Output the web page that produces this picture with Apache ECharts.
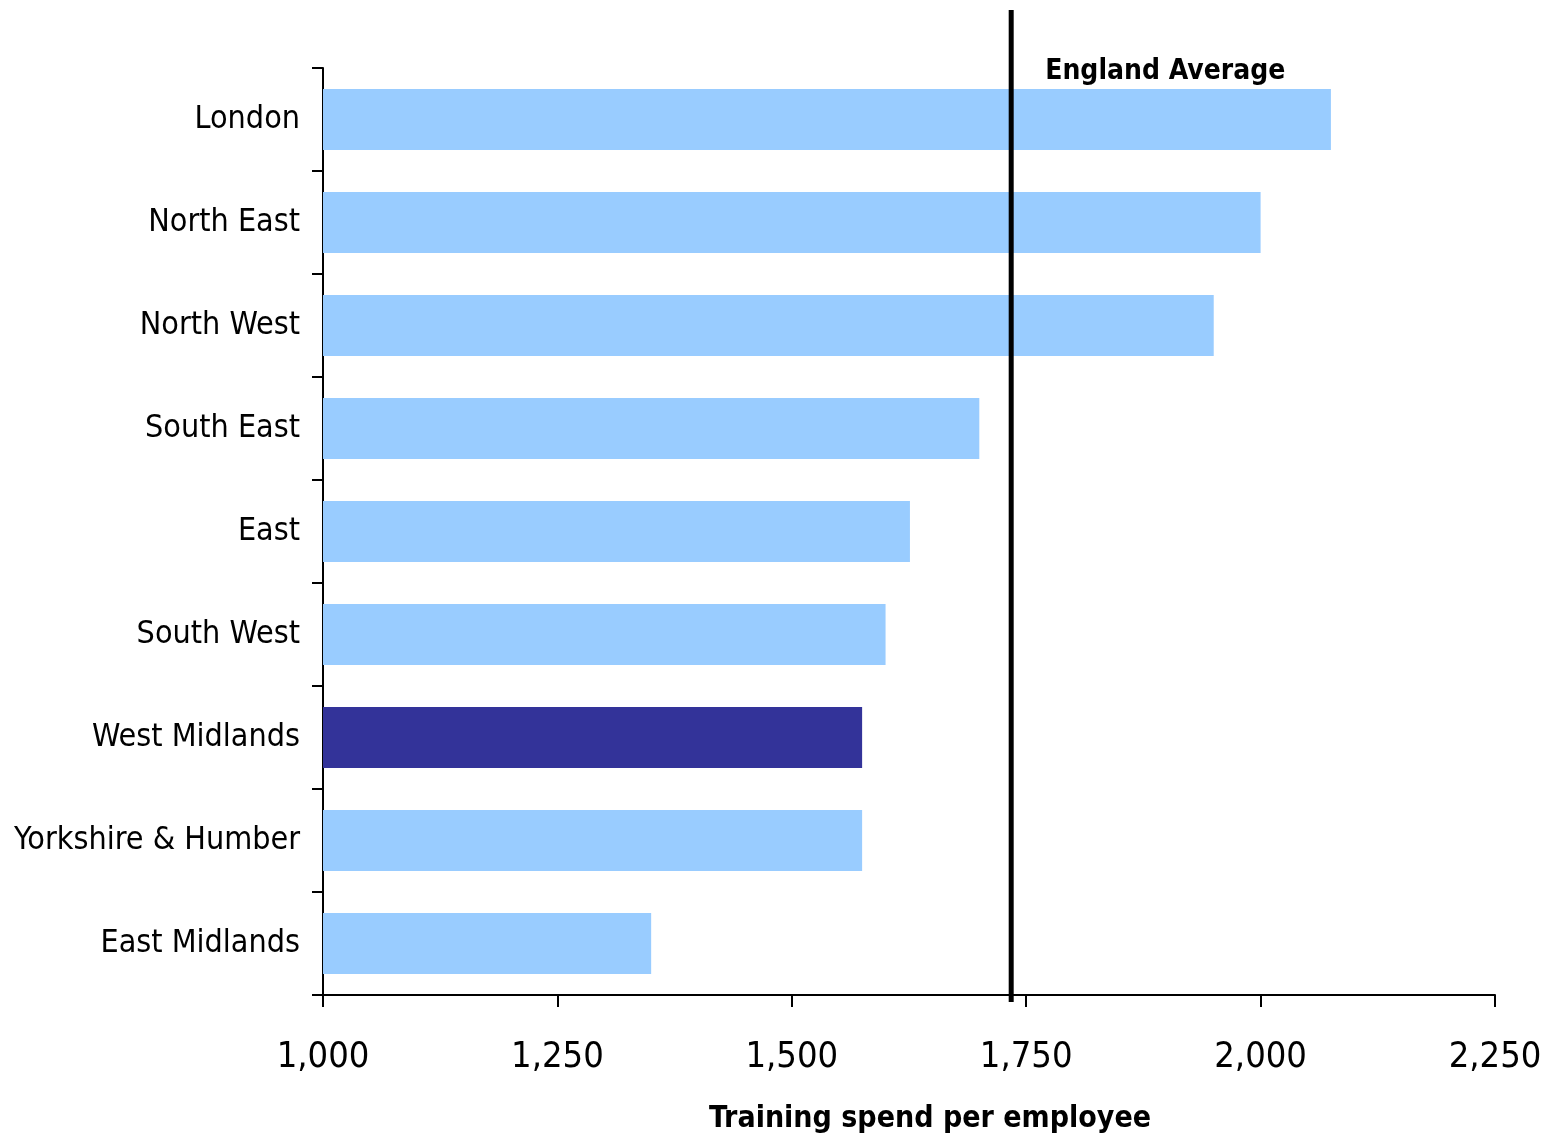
<!DOCTYPE html>
<html>
<head>
<meta charset="utf-8">
<script src="https://cdn.jsdelivr.net/npm/echarts@6/dist/echarts.min.js"></script>
<style>
html,body{margin:0;padding:0;background:#fff;}
#chart{width:1549px;height:1136px;}
</style>
</head>
<body>
<div id="chart"></div>
<script>
const categories = ['London','North East','North West','South East','East','South West','West Midlands','Yorkshire & Humber','East Midlands'];
const values = [2075, 2000, 1950, 1700, 1626, 1600, 1575, 1575, 1350];
const highlight = 'West Midlands';
const englandAverage = 1734;
const xTicks = [1000, 1250, 1500, 1750, 2000, 2250];
const xTitle = 'Training spend per employee';
const avgLabel = 'England Average';

const FONT = '"DejaVu Sans Condensed", "DejaVu Sans", sans-serif';
const chart = echarts.init(document.getElementById('chart'));
const fmt = v => v.toLocaleString('en-US');

chart.setOption({
  backgroundColor: '#fff',
  animation: false,
  grid: [
    {left: 323, right: 54, top: 68, bottom: 141, outerBoundsMode: 'none', containLabel: false},
    {left: 323, right: 54, top: 10, bottom: 134, outerBoundsMode: 'none', containLabel: false}
  ],
  xAxis: [
    {
      type: 'value', gridIndex: 0,
      min: xTicks[0], max: xTicks[xTicks.length-1], interval: 250,
      axisLine: {show: true, lineStyle: {color: '#000', width: 2}},
      axisTick: {show: true, length: 12, lineStyle: {color: '#000', width: 2}},
      splitLine: {show: false},
      axisLabel: {formatter: fmt, fontFamily: FONT, fontSize: 36, color: '#000', margin: 45},
      name: xTitle, nameLocation: 'middle', nameGap: 109,
      nameTextStyle: {fontFamily: FONT, fontSize: 30, fontWeight: 'bold', color: '#000', padding: [0,0,0,42]}
    },
    {
      type: 'value', gridIndex: 1,
      min: xTicks[0], max: xTicks[xTicks.length-1],
      show: false
    }
  ],
  yAxis: [
    {
      type: 'category', gridIndex: 0, data: categories, inverse: true,
      axisLine: {show: true, lineStyle: {color: '#000', width: 2}},
      axisTick: {show: true, length: 11, lineStyle: {color: '#000', width: 2}},
      axisLabel: {fontFamily: FONT, fontSize: 32, color: '#000', margin: 23}
    },
    {type: 'value', gridIndex: 1, min: 0, max: 1, show: false}
  ],
  series: [
    {
      type: 'bar', xAxisIndex: 0, yAxisIndex: 0,
      barWidth: 61,
      data: values.map((v, i) => ({
        value: v,
        itemStyle: {color: categories[i] === highlight ? '#333399' : '#99CCFF'}
      })),
      z: 2
    },
    {
      type: 'line', xAxisIndex: 1, yAxisIndex: 1,
      symbol: 'none',
      lineStyle: {color: '#000', width: 5},
      data: [[englandAverage, 0], [englandAverage, 1]],
      markPoint: {
        symbol: 'circle', symbolSize: 0,
        label: {
          show: true, position: 'right', distance: 0, offset: [34, 62],
          formatter: avgLabel, fontFamily: FONT, fontSize: 28, fontWeight: 'bold', color: '#000'
        },
        data: [{coord: [englandAverage, 1]}]
      },
      z: 5
    }
  ]
});
</script>
</body>
</html>
